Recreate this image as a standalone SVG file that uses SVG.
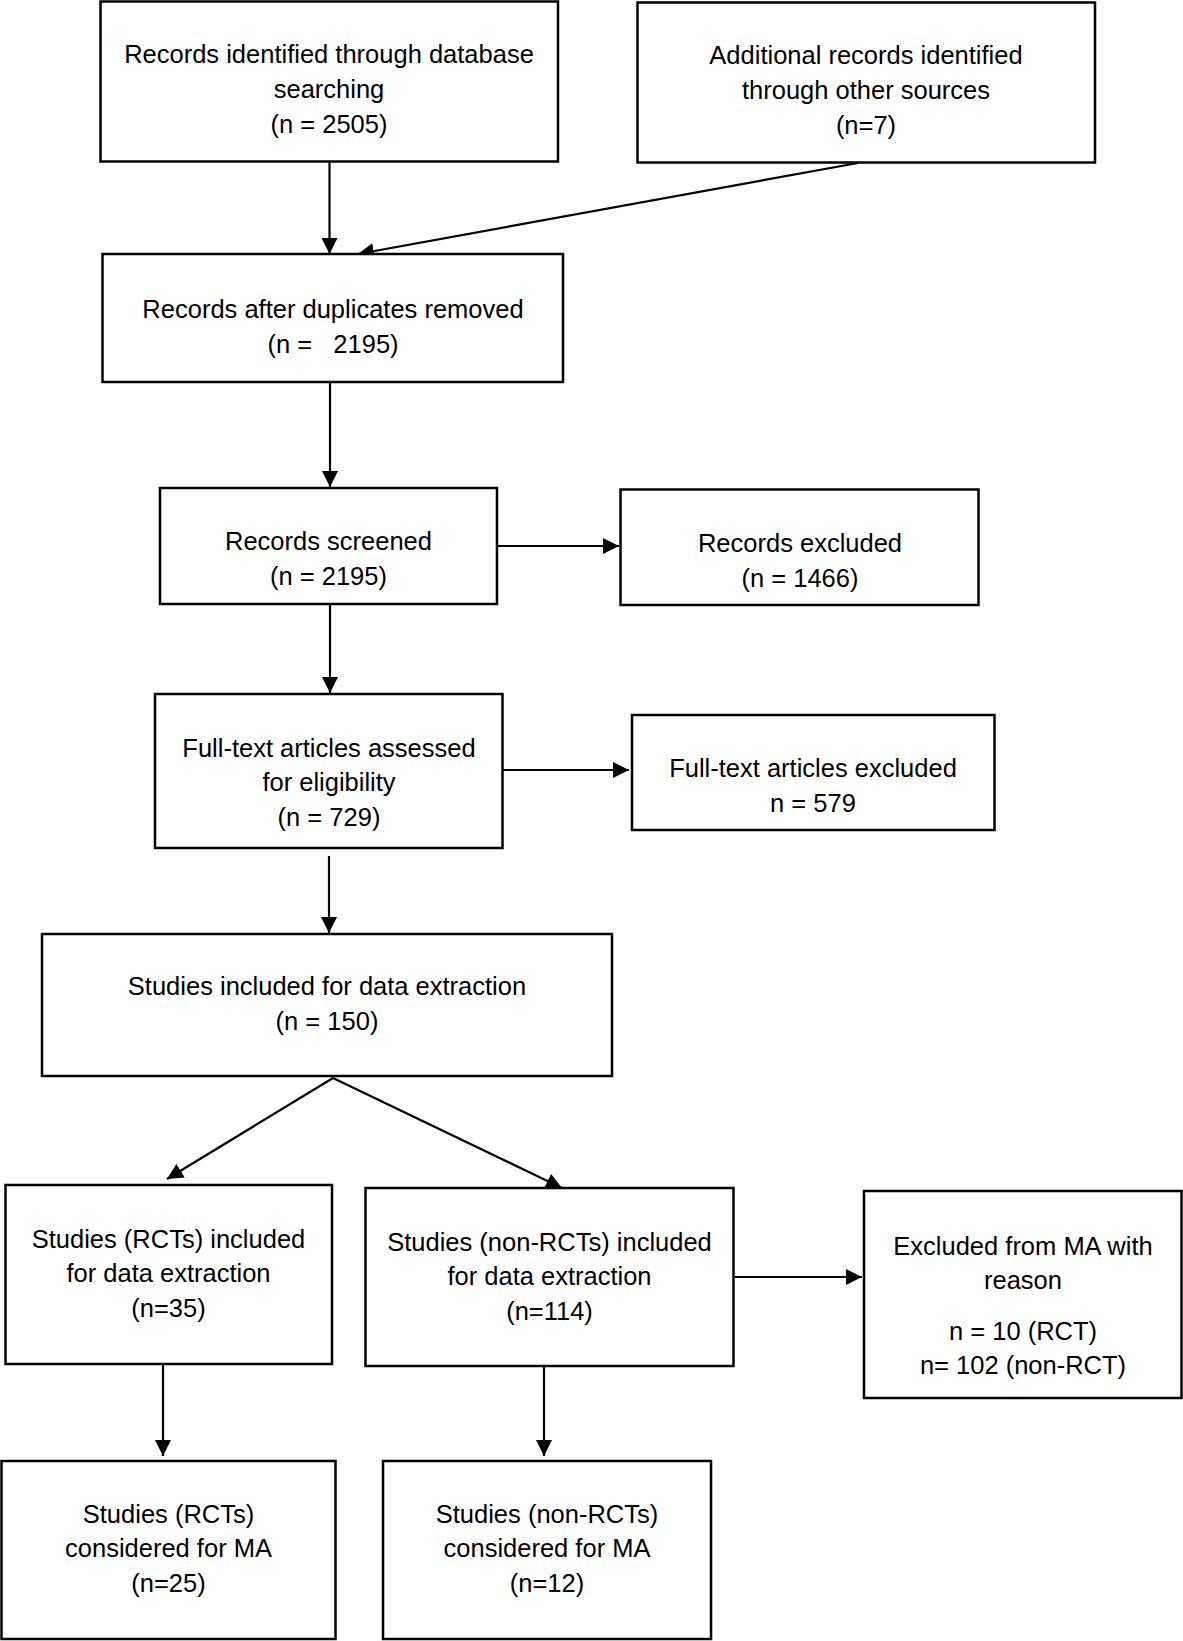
<svg xmlns="http://www.w3.org/2000/svg" width="1183" height="1641" viewBox="0 0 1183 1641">
<style>
.box{fill:#fff;stroke:#000;stroke-width:2.5}
.t{font-family:"Liberation Sans",Arial,sans-serif;font-size:25.5px;fill:#000;text-anchor:middle;white-space:pre}
.c{stroke:#000;stroke-width:2.2;fill:none;marker-end:url(#ah)}
</style>
<defs>
<marker id="ah" markerUnits="userSpaceOnUse" markerWidth="16" markerHeight="16" viewBox="0 0 16 16" refX="16" refY="8" orient="auto">
<path d="M0,0 L16,8 L0,16 Z" fill="#000"/>
</marker>
</defs>
<rect width="1183" height="1641" fill="#fff"/>
<g id="connectors">
<line class="c" x1="329.5" y1="162" x2="329.5" y2="254"/>
<line class="c" x1="858" y1="163" x2="358" y2="254"/>
<line class="c" x1="330" y1="383" x2="330" y2="487"/>
<line class="c" x1="498" y1="546" x2="619" y2="546"/>
<line class="c" x1="330" y1="605" x2="330" y2="693"/>
<line class="c" x1="503" y1="770" x2="629" y2="770"/>
<line class="c" x1="329" y1="856" x2="329" y2="933"/>
<line class="c" x1="333" y1="1078" x2="167" y2="1179"/>
<line class="c" x1="333" y1="1078" x2="562" y2="1188"/>
<line class="c" x1="735" y1="1277" x2="862" y2="1277"/>
<line class="c" x1="163" y1="1365" x2="163" y2="1456"/>
<line class="c" x1="544" y1="1367" x2="544" y2="1456"/>
</g>
<g id="n1"><rect class="box" x="100.5" y="1.5" width="457.5" height="160"/>
<text class="t" x="329" y="63">Records identified through database</text>
<text class="t" x="329" y="98">searching</text>
<text class="t" x="329" y="133">(n = 2505)</text></g>
<g id="n2"><rect class="box" x="637.5" y="2.5" width="457.5" height="160"/>
<text class="t" x="866" y="64">Additional records identified</text>
<text class="t" x="866" y="99">through other sources</text>
<text class="t" x="866" y="134">(n=7)</text></g>
<g id="n3"><rect class="box" x="102.5" y="254" width="460.5" height="128"/>
<text class="t" x="333" y="318">Records after duplicates removed</text>
<text class="t" x="333" y="353">(n =   2195)</text></g>
<g id="n4"><rect class="box" x="160" y="488" width="337" height="116"/>
<text class="t" x="328.5" y="550">Records screened</text>
<text class="t" x="328.5" y="585">(n = 2195)</text></g>
<g id="n5"><rect class="box" x="620.5" y="489.5" width="358" height="115.5"/>
<text class="t" x="800" y="552">Records excluded</text>
<text class="t" x="800" y="587">(n = 1466)</text></g>
<g id="n6"><rect class="box" x="155" y="694" width="347.5" height="154"/>
<text class="t" x="329" y="757">Full-text articles assessed</text>
<text class="t" x="329" y="791">for eligibility</text>
<text class="t" x="329" y="826">(n = 729)</text></g>
<g id="n7"><rect class="box" x="632" y="715" width="362.5" height="115"/>
<text class="t" x="813" y="777">Full-text articles excluded</text>
<text class="t" x="813" y="812">n = 579</text></g>
<g id="n8"><rect class="box" x="42" y="934" width="570" height="142"/>
<text class="t" x="327" y="995">Studies included for data extraction</text>
<text class="t" x="327" y="1030">(n = 150)</text></g>
<g id="n9"><rect class="box" x="5.5" y="1185" width="326.5" height="179"/>
<text class="t" x="168.5" y="1248">Studies (RCTs) included</text>
<text class="t" x="168.5" y="1282">for data extraction</text>
<text class="t" x="168.5" y="1317">(n=35)</text></g>
<g id="n10"><rect class="box" x="365.5" y="1188" width="368" height="178"/>
<text class="t" x="549.5" y="1251">Studies (non-RCTs) included</text>
<text class="t" x="549.5" y="1285">for data extraction</text>
<text class="t" x="549.5" y="1320">(n=114)</text></g>
<g id="n11"><rect class="box" x="864" y="1191" width="317.5" height="207"/>
<text class="t" x="1023" y="1255">Excluded from MA with</text>
<text class="t" x="1023" y="1289">reason</text>
<text class="t" x="1023" y="1340">n = 10 (RCT)</text>
<text class="t" x="1023" y="1374">n= 102 (non-RCT)</text></g>
<g id="n12"><rect class="box" x="1.5" y="1461" width="334" height="178"/>
<text class="t" x="168.5" y="1523">Studies (RCTs)</text>
<text class="t" x="168.5" y="1557">considered for MA</text>
<text class="t" x="168.5" y="1592">(n=25)</text></g>
<g id="n13"><rect class="box" x="383" y="1461" width="328" height="178"/>
<text class="t" x="547" y="1523">Studies (non-RCTs)</text>
<text class="t" x="547" y="1557">considered for MA</text>
<text class="t" x="547" y="1592">(n=12)</text></g>
</svg>
